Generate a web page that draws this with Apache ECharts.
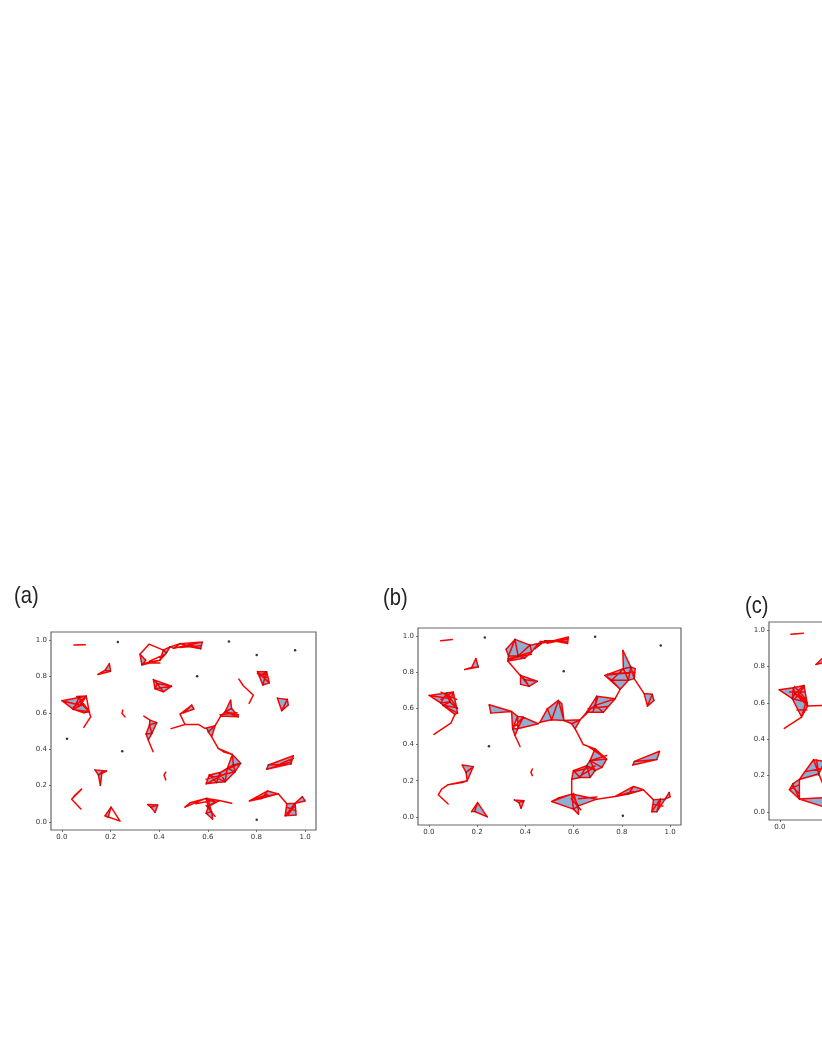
<!DOCTYPE html>
<html>
<head>
<meta charset="utf-8">
<script src="https://cdn.jsdelivr.net/npm/echarts@6/dist/echarts.min.js"></script>
<style>
html, body { margin: 0; padding: 0; background: #fff; }
#chart { width: 822px; height: 1064px; }
</style>
</head>
<body>
<div id="chart"></div>
<script>
const tickValues = [0, 0.2, 0.4, 0.6, 0.8, 1];
const panelLabels = ['(a)', '(b)', '(c)'];

// isolated points
const dotsA = [[.23,.99],[.687,.993],[.801,.918],[.959,.945],[.556,.802],[.021,.458],[.248,.388],[.801,.011]];
const dotsB = [[.232,.993],[.689,.996],[.961,.948],[.559,.806],[.249,.391],[.804,.006]];
const dotsC = [];

// filled triangles: x1,y1,x2,y2,x3,y3
const trianglesA = [
  [.321,.923,.329,.863,.345,.89],[.36,.88,.403,.89,.33,.868],[.417,.945,.403,.89,.43,.93],[.417,.945,.444,.963,.43,.93],
  [.444,.963,.486,.981,.46,.955],[.486,.981,.577,.99,.571,.953],[.486,.981,.571,.953,.52,.965],
  [.195,.871,.2,.829,.178,.835],[.148,.811,.178,.835,.2,.829],
  [0,.667,.071,.685,.047,.619],[.071,.685,.1,.692,.08,.65],[.071,.685,.047,.619,.08,.65],[.047,.619,.08,.65,.112,.606],[.1,.692,.08,.65,.07,.69],
  [.047,.619,.112,.606,.09,.6],
  [.376,.783,.383,.733,.392,.761],[.383,.733,.417,.716,.392,.761],[.392,.761,.417,.716,.451,.747],[.376,.783,.392,.761,.451,.747],
  [.362,.56,.36,.533,.39,.546],[.36,.533,.39,.546,.37,.487],[.36,.533,.346,.484,.37,.487],[.346,.484,.37,.487,.355,.45],
  [.534,.643,.543,.621,.5,.6],[.486,.593,.534,.643,.51,.61],
  [.595,.516,.63,.529,.602,.495],[.602,.495,.63,.529,.616,.468],
  [.671,.606,.694,.67,.698,.624],[.653,.582,.671,.606,.726,.578],[.671,.606,.698,.624,.726,.578],
  [.804,.826,.842,.826,.812,.802],[.812,.802,.842,.826,.826,.753],[.842,.826,.853,.765,.826,.753],
  [.886,.681,.927,.674,.904,.612],[.927,.674,.931,.643,.904,.612],
  [.136,.286,.184,.28,.15,.258],[.15,.258,.165,.275,.158,.2],
  [.202,.081,.177,.033,.19,.025],
  [.353,.095,.394,.093,.366,.08],[.366,.08,.394,.093,.383,.052],
  [.643,.404,.664,.386,.701,.371],[.701,.371,.735,.322,.705,.313],[.735,.322,.712,.276,.705,.313],[.701,.371,.705,.313,.68,.294],
  [.705,.313,.712,.276,.68,.294],[.65,.271,.68,.294,.671,.221],[.68,.294,.712,.276,.671,.221],[.606,.258,.65,.271,.636,.216],
  [.593,.209,.606,.258,.636,.216],[.636,.216,.65,.271,.671,.221],
  [.842,.29,.849,.313,.942,.319],[.849,.313,.952,.364,.942,.319],
  [.506,.081,.527,.105,.593,.129],[.593,.129,.647,.117,.602,.084],[.593,.125,.63,.11,.602,.084],[.602,.084,.616,.056,.593,.047],[.593,.047,.616,.056,.62,.014],
  [.925,.099,.959,.102,.918,.033],[.959,.102,.963,.038,.918,.033],[.959,.102,.989,.139,1,.115],
  [.771,.115,.846,.17,.822,.129],[.822,.129,.846,.17,.89,.154]
];
const trianglesB = [
  [.32,.928,.357,.982,.33,.89],[.357,.982,.419,.95,.37,.89],[.33,.89,.357,.982,.37,.89],[.419,.95,.426,.913,.37,.89],
  [.426,.913,.398,.879,.37,.89],[.327,.863,.398,.879,.37,.89],[.419,.95,.454,.959,.426,.913],[.454,.959,.481,.974,.44,.93],[.327,.863,.33,.89,.37,.89],
  [.461,.959,.516,.974,.481,.974],[.516,.974,.578,.995,.575,.959],
  [.149,.815,.177,.826,.205,.829],[.195,.876,.205,.829,.177,.826],
  [.001,.672,.073,.685,.05,.63],[.073,.685,.101,.691,.087,.635],[.05,.63,.073,.685,.087,.635],[.05,.63,.087,.635,.059,.617],
  [.059,.617,.087,.635,.115,.604],[.101,.691,.087,.635,.115,.604],[.059,.617,.115,.604,.119,.574],[.059,.617,.119,.574,.108,.567],
  [.38,.783,.38,.733,.415,.722],[.38,.783,.398,.759,.449,.75],[.398,.759,.415,.722,.449,.75],
  [.25,.62,.257,.574,.343,.583],
  [.343,.583,.368,.556,.347,.487],[.368,.556,.391,.552,.368,.487],[.391,.552,.453,.515,.368,.487],[.347,.487,.368,.487,.357,.45],
  [.461,.524,.491,.598,.509,.537],[.491,.598,.537,.644,.509,.537],[.537,.644,.509,.537,.56,.533],[.537,.644,.551,.626,.56,.533],
  [.56,.533,.627,.537,.592,.515],[.592,.515,.627,.537,.606,.487],
  [.654,.579,.696,.668,.689,.617],[.696,.668,.772,.654,.689,.617],[.689,.617,.772,.654,.723,.579],[.654,.579,.689,.617,.723,.579],
  [.73,.783,.806,.82,.758,.756],[.73,.783,.758,.756,.793,.706],[.758,.756,.827,.756,.793,.706],[.758,.756,.806,.82,.827,.756],
  [.806,.82,.837,.829,.827,.756],[.837,.829,.851,.765,.827,.756],[.837,.829,.855,.82,.851,.765],[.804,.922,.806,.82,.837,.829],
  [.892,.682,.926,.678,.906,.613],[.926,.678,.933,.644,.906,.613],
  [.138,.287,.184,.278,.154,.246],[.154,.246,.184,.278,.159,.2],
  [.08,.178,.159,.2,.138,.19],
  [.202,.079,.177,.029,.19,.03],[.202,.079,.19,.03,.242,0],
  [.354,.094,.394,.089,.373,.079],[.373,.079,.394,.089,.382,.048],
  [.689,.376,.737,.32,.668,.311],[.737,.32,.717,.274,.668,.311],[.668,.311,.717,.274,.689,.256],[.654,.283,.668,.311,.689,.256],
  [.599,.256,.654,.283,.627,.218],[.592,.208,.599,.256,.627,.218],[.627,.218,.654,.283,.668,.218],[.654,.283,.689,.256,.668,.218],
  [.509,.085,.536,.104,.592,.126],[.509,.085,.592,.126,.599,.043],[.592,.126,.696,.098,.62,.061],[.592,.126,.62,.061,.599,.043],[.599,.043,.62,.061,.62,.015],
  [.772,.113,.848,.168,.827,.126],[.827,.126,.848,.168,.889,.15],
  [.931,.094,.959,.098,.924,.029],[.959,.098,.945,.029,.924,.029],[.959,.098,.979,.098,.945,.029],[.979,.098,.996,.135,1,.111],
  [.845,.287,.852,.307,.945,.317],[.852,.307,.956,.363,.945,.317]
];
const trianglesC = [
  [-.003,.672,.055,.683,.051,.623],[.055,.683,.099,.696,.062,.651],[.051,.623,.062,.651,.107,.605],[.051,.623,.107,.605,.089,.522],
  [.099,.696,.114,.583,.062,.651],[.107,.605,.114,.583,.089,.522],[.055,.683,.062,.651,.051,.623],
  [.148,.811,.195,.871,.205,.829],
  [.039,.122,.053,.154,.08,.071],[.053,.154,.08,.178,.08,.071],
  [.08,.178,.138,.287,.16,.21],[.138,.287,.184,.278,.16,.21],[.08,.178,.16,.21,.159,.2],
  [.08,.071,.202,.079,.177,.029]
];

// open edge chains: x1,y1,x2,y2,...
const pathsA = [
  [.049,.973,.096,.975],
  [.321,.923,.358,.978,.417,.945,.403,.89,.36,.88,.329,.863,.321,.923],
  [.329,.863,.403,.89],[.345,.875,.403,.875],[.36,.885,.42,.92],
  [.444,.963,.486,.981,.577,.99],[.46,.955,.577,.99],[.486,.96,.571,.97],[.52,.98,.571,.953],
  [.118,.578,.112,.606,.1,.692],[.118,.578,.09,.52],
  [.1,.692,.047,.63],[.071,.685,.112,.606],[0,.667,.08,.64],[.047,.619,.09,.65],[.06,.69,.1,.692],
  [.25,.615,.247,.597,.259,.578],
  [.337,.582,.362,.56],[.355,.45,.375,.386],
  [.449,.513,.506,.536,.561,.536,.588,.515,.595,.516],[.506,.536,.486,.593],
  [.63,.529,.653,.582],[.671,.606,.726,.59],[.65,.59,.72,.6],
  [.383,.733,.451,.747],[.812,.815,.842,.81],[.804,.815,.842,.795],[.804,.826,.853,.765],
  [.728,.786,.746,.749,.787,.698,.77,.652],
  [.081,.18,.051,.143,.04,.124,.078,.071],[.04,.124,.081,.18],
  [.177,.033,.239,.004],[.202,.081,.239,.004],
  [.42,.258,.427,.273],[.42,.258,.427,.231],
  [.616,.468,.643,.404],
  [.698,.102,.647,.117],[.55,.1,.63,.12],[.6,.13,.62,.03],[.593,.09,.63,.03],
  [.593,.209,.68,.27],[.606,.258,.671,.221],[.593,.235,.712,.276],[.65,.271,.735,.322],
  [.842,.29,.942,.33],[.9,.32,.952,.35],
  [.89,.154,.925,.099],[.959,.102,.989,.139],[.925,.08,.963,.06],[.93,.04,.96,.09],
  [.771,.115,.846,.15],[.8,.13,.89,.154]
];
const pathsB = [
  [.049,.974,.097,.981],
  [.108,.567,.091,.518,.021,.456],
  [.327,.863,.378,.783],
  [.327,.875,.426,.9],[.33,.87,.398,.895],[.44,.93,.481,.974],[.46,.97,.575,.97],[.49,.96,.578,.985],
  [.05,.65,.101,.691],[.001,.672,.087,.655],[.05,.69,.115,.65],[.073,.685,.119,.6],
  [.343,.583,.25,.62],[.357,.45,.378,.389],[.391,.552,.347,.487],
  [.453,.515,.461,.524],
  [.627,.537,.654,.579],[.627,.537,.664,.585],
  [.66,.6,.74,.61],[.68,.58,.7,.66],
  [.772,.654,.793,.706],[.73,.783,.851,.8],[.74,.79,.855,.8],
  [.851,.765,.892,.682],
  [.159,.2,.08,.178,.053,.154,.039,.122,.08,.071],
  [.423,.246,.429,.265],[.423,.246,.429,.228],
  [.606,.487,.613,.47,.64,.4,.689,.376],[.66,.39,.737,.32],[.668,.311,.737,.34],
  [.592,.208,.592,.126],[.6,.25,.689,.28],[.62,.22,.68,.27],
  [.696,.098,.772,.113],[.889,.15,.931,.094],[.6,.13,.62,.04],[.59,.1,.63,.04],[.62,.1,.696,.11],
  [.772,.113,.848,.14],[.8,.12,.889,.15],[.93,.07,.97,.06],[.95,.04,.96,.09]
];
const pathsC = [
  [.045,.977,.096,.983],
  [.089,.522,.018,.459],
  [.114,.583,.172,.586,.25,.59],
  [.08,.178,.08,.071],[.05,.14,.08,.1],[.039,.122,.08,.15],
  [.06,.69,.107,.62],[.04,.66,.099,.66],[.06,.62,.1,.69],[.075,.65,.114,.6],[.07,.56,.11,.56],
  [.16,.21,.18,.14,.202,.079],[.1,.22,.18,.24],[.15,.287,.16,.21]
];

function flatToPoints(flat) {
  const pts = [];
  for (let i = 0; i < flat.length; i += 2) pts.push([flat[i], flat[i + 1]]);
  return pts;
}

function edgeData(triangles, paths) {
  const out = [];
  triangles.forEach(t => {
    out.push(...flatToPoints(t), [t[0], t[1]], [null, null]);
  });
  paths.forEach(p => {
    out.push(...flatToPoints(p), [null, null]);
  });
  return out;
}

function vertexData(triangles, paths) {
  const out = [];
  triangles.concat(paths).forEach(f => out.push(...flatToPoints(f)));
  return out;
}

function renderTriangle(params, api) {
  const pts = [];
  for (let i = 0; i < 6; i += 2) pts.push(api.coord([api.value(i), api.value(i + 1)]));
  return {
    type: 'polygon',
    shape: { points: pts },
    style: { fill: '#8ab1d4' }
  };
}

const panels = [
  { left: 51, top: 632, width: 265, height: 198, tris: trianglesA, paths: pathsA, dots: dotsA },
  { left: 418, top: 628, width: 263, height: 197, tris: trianglesB, paths: pathsB, dots: dotsB },
  { left: 769, top: 622, width: 265, height: 198, tris: trianglesC, paths: pathsC, dots: dotsC }
];
const labelSpots = [[14, 584], [383, 586], [745, 594]];

const grid = [], xAxis = [], yAxis = [], series = [];
const axisCommon = {
  type: 'value',
  min: -0.045,
  max: 1.045,
  splitLine: { show: false },
  axisLine: { show: false, onZero: false },
  axisTick: { show: true, length: 2, customValues: tickValues, lineStyle: { color: '#555', width: 0.8 } },
  axisLabel: {
    customValues: tickValues,
    formatter: v => v.toFixed(1),
    fontFamily: 'DejaVu Sans',
    fontSize: 7,
    color: '#333',
    margin: 4
  }
};

panels.forEach((p, i) => {
  grid.push({ left: p.left, top: p.top, width: p.width, height: p.height, outerBoundsMode: 'none', show: true, borderColor: '#666', borderWidth: 1.2, backgroundColor: '#fff' });
  xAxis.push({ ...axisCommon, gridIndex: i });
  yAxis.push({ ...axisCommon, gridIndex: i });
  series.push({
    type: 'custom', xAxisIndex: i, yAxisIndex: i, z: 2, silent: true,
    renderItem: renderTriangle,
    encode: { x: [0, 2, 4], y: [1, 3, 5] },
    data: p.tris
  });
  series.push({
    type: 'line', xAxisIndex: i, yAxisIndex: i, z: 3, silent: true,
    showSymbol: false, connectNulls: false,
    lineStyle: { color: '#ff0000', width: 1.5, join: 'round', cap: 'round' },
    data: edgeData(p.tris, p.paths)
  });
  series.push({
    type: 'scatter', xAxisIndex: i, yAxisIndex: i, z: 4, silent: true,
    symbolSize: 1.2, itemStyle: { color: '#333' },
    data: vertexData(p.tris, [])
  });
  series.push({
    type: 'scatter', xAxisIndex: i, yAxisIndex: i, z: 4, silent: true,
    symbolSize: 2.5, itemStyle: { color: '#000' },
    data: p.dots
  });
});

const chart = echarts.init(document.getElementById('chart'), null, { renderer: 'canvas' });
chart.setOption({
  animation: false,
  backgroundColor: '#fff',
  grid: grid,
  xAxis: xAxis,
  yAxis: yAxis,
  series: series,
  graphic: panelLabels.map((t, i) => ({
    type: 'text',
    x: labelSpots[i][0],
    y: labelSpots[i][1],
    scaleX: 0.84,
    style: { text: t, fontFamily: 'Liberation Sans', fontSize: 24, fill: '#222' }
  }))
});
</script>
</body>
</html>
